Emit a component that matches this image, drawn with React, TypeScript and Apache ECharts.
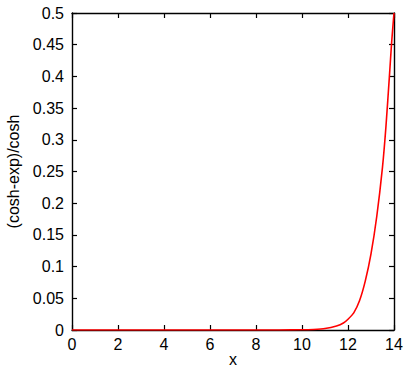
import React, { useEffect, useRef } from "react";
import * as echarts from "echarts";

const xValues = [0, 2, 4, 6, 8, 9, 10, 10.5, 11, 11.5, 11.8, 12, 12.25, 12.5, 12.75, 13, 13.25, 13.5, 13.65, 13.8, 13.9, 14];
const yValues = [0, 0, 0, 0, 0, 0.0001, 0.0003, 0.0009, 0.0023, 0.0063, 0.011, 0.017, 0.027, 0.046, 0.077, 0.12, 0.179, 0.257, 0.321, 0.4, 0.455, 0.5];
const xTicks = { min: 0, max: 14, interval: 2 };
const yTicks = { min: 0, max: 0.5, interval: 0.05 };

const FONT = "Liberation Sans";

export default function App() {
  const ref = useRef<HTMLDivElement>(null);
  useEffect(() => {
    const chart = echarts.init(ref.current!, null, { renderer: "svg" });
    const line = { onZero: false, lineStyle: { color: "#000", width: 1.4 } };
    const tick = { inside: true, length: 5, lineStyle: { color: "#000", width: 1.2 } };
    chart.setOption({
      animation: false,
      backgroundColor: "#fff",
      grid: { left: 72, right: 21, top: 13, bottom: 39, outerBoundsMode: "none" },
      xAxis: [
        {
          type: "value", ...xTicks, position: "bottom",
          axisLine: line, axisTick: tick, splitLine: { show: false },
          axisLabel: { color: "#000", fontSize: 16, fontFamily: FONT, margin: 6 },
          name: "x", nameLocation: "middle", nameGap: 21, nameMoveOverlap: false,
          nameTextStyle: { color: "#000", fontSize: 16, lineHeight: 16, fontFamily: FONT },
        },
        {
          type: "value", ...xTicks, position: "top",
          axisLine: line, axisTick: tick, splitLine: { show: false },
          axisLabel: { show: false },
        },
      ],
      yAxis: [
        {
          type: "value", ...yTicks, position: "left",
          axisLine: line, axisTick: tick, splitLine: { show: false },
          axisLabel: { color: "#000", fontSize: 16, fontFamily: FONT, margin: 8 },
          name: "(cosh-exp)/cosh", nameLocation: "middle", nameGap: 50,
          nameTextStyle: { color: "#000", fontSize: 16, fontFamily: FONT },
        },
        {
          type: "value", ...yTicks, position: "right",
          axisLine: line, axisTick: tick, splitLine: { show: false },
          axisLabel: { show: false },
        },
      ],
      series: [
        {
          type: "line",
          data: xValues.map((x, i) => [x, yValues[i]]),
          showSymbol: false,
          smooth: 0.2,
          lineStyle: { color: "#ff0000", width: 1.6 },
        },
      ],
    });
    return () => chart.dispose();
  }, []);
  return <div ref={ref} style={{ width: 415, height: 369, position: "absolute", left: 0, top: 0 }} />;
}
